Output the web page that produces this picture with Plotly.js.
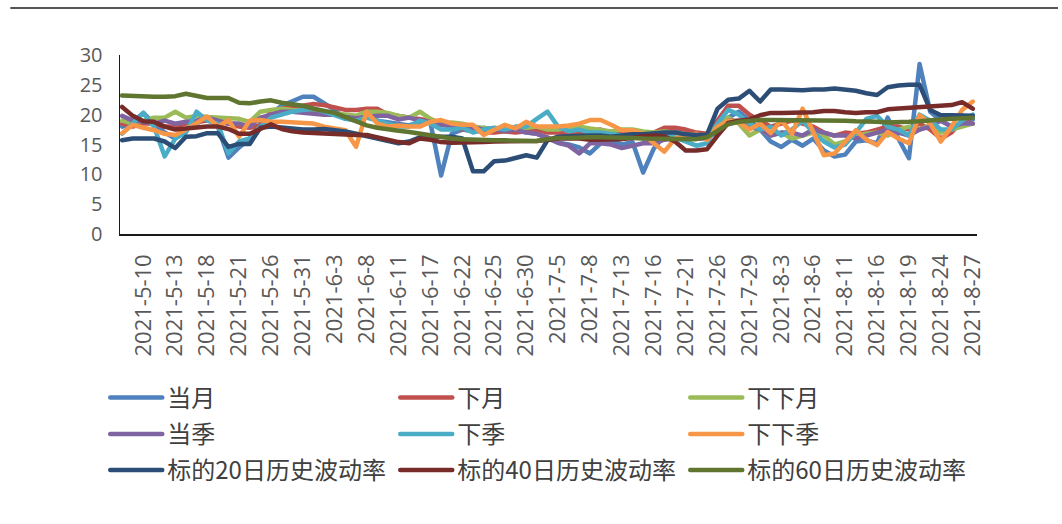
<!DOCTYPE html>
<html>
<head>
<meta charset="utf-8">
<script src="https://cdn.plot.ly/plotly-3.0.1.min.js"></script>
<style>
  html, body { margin: 0; padding: 0; background: #fff; }
  #chart { width: 1062px; height: 524px; }
  .js-line { stroke-linejoin: round; stroke-linecap: round; }
</style>
</head>
<body>
<div id="chart"></div>
<script>
// Trading days, 2021-5-6 .. 2021-8-27
const dates = [
  "2021-5-6","2021-5-7","2021-5-10","2021-5-11","2021-5-12","2021-5-13","2021-5-14","2021-5-17","2021-5-18","2021-5-19",
  "2021-5-20","2021-5-21","2021-5-24","2021-5-25","2021-5-26","2021-5-27","2021-5-28","2021-5-31","2021-6-1","2021-6-2",
  "2021-6-3","2021-6-4","2021-6-7","2021-6-8","2021-6-9","2021-6-10","2021-6-11","2021-6-15","2021-6-16","2021-6-17",
  "2021-6-18","2021-6-21","2021-6-22","2021-6-23","2021-6-24","2021-6-25","2021-6-28","2021-6-29","2021-6-30","2021-7-1",
  "2021-7-2","2021-7-5","2021-7-6","2021-7-7","2021-7-8","2021-7-9","2021-7-12","2021-7-13","2021-7-14","2021-7-15",
  "2021-7-16","2021-7-19","2021-7-20","2021-7-21","2021-7-22","2021-7-23","2021-7-26","2021-7-27","2021-7-28","2021-7-29",
  "2021-7-30","2021-8-2","2021-8-3","2021-8-4","2021-8-5","2021-8-6","2021-8-9","2021-8-10","2021-8-11","2021-8-12",
  "2021-8-13","2021-8-16","2021-8-17","2021-8-18","2021-8-19","2021-8-20","2021-8-23","2021-8-24","2021-8-25","2021-8-26",
  "2021-8-27"
];

// Implied volatility by contract (%)
const ivCurMonth = [
  18.0,18.8,20.3,18.5,17.0,16.0,17.5,18.5,19.5,18.0,
  12.8,14.5,16.0,18.5,20.2,21.5,22.3,23.0,23.0,22.0,
  20.8,19.3,19.5,19.8,19.0,18.7,18.5,18.2,18.8,18.6,
  9.8,16.8,17.5,17.2,17.8,17.5,17.2,17.3,17.0,16.8,
  16.0,15.3,15.0,14.5,13.5,15.2,15.5,15.0,15.4,10.3,
  14.3,16.5,17.2,17.0,16.5,16.2,17.0,19.5,20.5,19.0,
  17.5,15.5,14.6,15.8,14.8,16.0,14.0,13.0,13.3,15.5,
  15.7,15.2,19.5,16.0,12.7,28.5,20.5,19.0,18.0,18.5,
  19.2
];
const ivNextMonth = [
  18.5,18.0,18.5,18.5,18.0,18.0,18.5,18.8,19.0,18.7,
  18.5,18.0,17.8,18.2,20.5,21.0,21.2,21.5,21.8,21.6,
  21.2,20.8,20.8,21.0,21.0,20.0,19.8,19.5,19.2,19.0,
  18.8,18.5,17.5,17.5,17.0,17.0,17.2,17.0,17.2,17.5,
  17.0,17.0,16.8,17.0,17.2,17.5,17.0,16.8,17.0,16.5,
  17.0,17.8,17.8,17.5,17.0,16.8,19.0,21.5,21.5,20.0,
  19.0,18.0,18.5,19.0,18.5,18.0,17.0,16.5,17.0,16.8,
  17.0,17.5,18.0,18.0,17.5,18.5,17.5,16.0,17.0,19.0,
  18.5
];
const ivFarMonth = [
  19.0,18.5,19.0,19.5,19.5,20.5,19.5,19.8,19.6,19.5,
  19.5,19.3,18.8,20.5,20.8,21.0,20.8,20.6,20.5,20.4,
  20.2,20.0,19.8,20.5,20.5,20.3,19.8,19.5,20.5,19.3,
  18.5,18.7,18.5,18.0,17.8,17.5,17.8,17.5,17.8,18.0,
  17.5,17.5,17.8,18.0,17.7,17.5,17.2,17.5,17.5,17.2,
  17.0,17.2,17.0,16.8,16.5,16.6,18.3,19.5,18.5,16.5,
  17.5,16.5,17.0,16.0,16.5,17.0,16.5,15.0,15.5,16.5,
  16.8,17.0,16.5,17.5,18.0,17.5,18.2,17.0,17.5,18.0,
  18.5
];
const ivCurQuarter = [
  19.8,19.0,18.8,18.5,19.0,18.5,18.8,19.0,19.5,19.0,
  18.5,18.5,18.0,19.5,20.0,20.5,20.5,20.3,20.2,20.0,
  20.0,19.6,19.4,19.6,19.8,19.8,19.2,19.5,19.0,18.8,
  18.3,18.0,17.8,17.8,17.5,17.5,17.3,17.5,17.0,16.8,
  16.2,15.3,14.8,13.5,15.2,15.2,15.0,14.4,14.8,15.2,
  15.2,15.8,16.0,16.2,16.0,16.0,17.5,19.0,19.0,18.0,
  17.5,16.5,17.0,17.0,16.5,17.5,17.0,16.5,16.5,16.0,
  16.5,17.0,17.5,17.0,16.5,17.5,18.0,19.0,18.0,18.5,
  18.5
];
const ivNextQuarter = [
  16.8,18.5,20.3,18.0,13.0,16.0,17.0,20.5,19.0,18.5,
  13.5,15.5,16.0,18.0,19.5,20.0,20.5,20.8,21.0,20.5,
  19.8,19.3,19.0,19.5,19.0,18.5,18.0,18.0,19.0,18.5,
  17.5,17.5,17.8,17.0,17.5,17.8,17.5,18.0,18.0,19.3,
  20.5,18.0,17.2,17.5,17.0,17.0,16.8,16.5,16.5,16.0,
  16.0,16.5,16.2,15.5,14.8,15.2,18.5,20.8,20.0,18.5,
  17.5,18.0,16.5,17.5,19.0,17.0,15.5,14.5,15.0,17.0,
  19.3,19.8,18.0,17.5,16.5,20.0,19.0,17.5,17.5,19.0,
  20.0
];
const ivFarQuarter = [
  16.9,18.3,17.8,17.4,16.8,16.6,17.5,18.5,19.7,18.0,
  19.1,16.3,19.0,19.1,18.8,18.8,18.7,18.5,18.5,18.0,
  17.7,17.4,14.6,20.5,18.5,18.0,18.2,18.0,18.0,18.8,
  19.1,18.5,18.3,18.3,16.6,17.4,18.3,17.7,18.8,18.0,
  18.0,18.0,18.2,18.5,19.1,19.1,18.3,17.4,17.4,16.8,
  15.2,13.8,16.0,16.5,16.8,15.8,18.0,19.0,18.8,17.5,
  18.5,16.9,19.1,16.8,21.0,17.0,13.2,13.5,15.5,17.4,
  15.8,14.9,17.1,16.0,15.2,19.9,18.5,15.5,18.0,20.8,
  22.2
];

// Historical volatility of the underlying (%)
const hv20 = [
  15.7,16.0,16.0,16.0,15.5,14.4,16.3,16.4,16.9,16.9,
  14.6,15.1,15.1,17.8,18.0,17.8,17.6,17.5,17.5,17.6,
  17.4,17.2,16.8,16.4,15.9,15.5,15.2,15.5,16.2,16.3,
  16.3,16.3,16.0,10.5,10.5,12.2,12.3,12.8,13.2,12.8,
  15.7,16.3,16.4,16.4,16.5,16.5,16.3,16.5,16.7,16.7,
  16.9,17.0,17.0,16.7,16.6,16.6,21.0,22.5,22.7,24.0,
  22.2,24.2,24.2,24.1,24.1,24.2,24.2,24.4,24.2,24.0,
  23.6,23.3,24.6,24.9,25.0,25.0,20.8,19.9,19.9,19.9,
  19.8
];
const hv40 = [
  21.3,19.8,18.9,18.8,18.0,17.5,17.7,17.9,18.0,18.0,
  17.6,16.8,16.8,17.6,18.4,17.6,17.2,17.0,16.9,16.8,
  16.7,16.7,16.6,16.6,16.2,15.7,15.4,15.2,16.0,15.8,
  15.4,15.3,15.3,15.4,15.4,15.5,15.5,15.5,15.6,15.6,
  15.8,16.0,16.0,16.0,15.8,15.8,15.8,15.9,16.1,16.4,
  16.5,16.4,15.5,14.0,14.0,14.2,16.5,18.6,19.0,19.2,
  19.9,20.3,20.3,20.3,20.3,20.4,20.6,20.6,20.4,20.3,
  20.4,20.4,20.9,21.0,21.2,21.3,21.4,21.5,21.6,22.1,
  21.0
];
const hv60 = [
  23.2,23.1,23.0,23.0,23.0,23.1,23.5,23.2,22.8,22.8,
  22.8,22.0,21.9,22.2,22.4,22.0,21.8,21.5,21.0,20.7,
  20.3,19.6,18.8,18.2,17.8,17.5,17.3,17.1,16.8,16.5,
  16.2,16.0,15.9,15.8,15.8,15.7,15.7,15.7,15.6,15.6,
  15.9,16.1,16.1,16.2,16.2,16.2,16.2,16.1,16.1,16.0,
  16.0,16.0,16.0,15.9,15.9,16.2,17.2,18.4,18.8,19.0,
  19.1,19.1,19.1,19.1,19.1,19.1,19.0,19.0,19.0,18.9,
  18.9,18.8,18.7,18.7,18.8,18.9,19.1,19.2,19.3,19.4,
  19.5
];

const seriesNames = ["当月","下月","下下月","当季","下季","下下季",
  "标的20日历史波动率","标的40日历史波动率","标的60日历史波动率"];
const seriesValues = [ivCurMonth, ivNextMonth, ivFarMonth, ivCurQuarter, ivNextQuarter, ivFarQuarter,
  hv20, hv40, hv60];
const seriesColors = ["#4F81BD","#C0504D","#9BBB59","#8064A2","#4BACC6","#F79646",
  "#2C4D75","#772C2A","#5F7530"];

// every third trading day carries a date label, ending on the last day
const tickDates = dates.filter((d, i) => (dates.length - 1 - i) % 3 === 0);

// three legend rows of three entries each
const legendRows = ["legend", "legend2", "legend3"];

const traces = seriesNames.map((name, k) => ({
  type: "scatter",
  mode: "lines",
  name: name,
  x: dates,
  y: seriesValues[k],
  line: { color: seriesColors[k], width: 4.5 },
  legend: legendRows[Math.floor(k / 3)],
  hoverinfo: "x+y+name"
}));

const xTickFont = { family: "Open Sans, Noto Sans, sans-serif", size: 22, color: "#595959" };
const yTickFont = { family: "Open Sans, Noto Sans, sans-serif", size: 20, color: "#595959" };
const legendFont = { family: "Noto Sans CJK SC, Noto Sans, sans-serif", size: 24, color: "#404040" };

function legendRow(yPaper) {
  return {
    orientation: "h",
    x: -0.0172,
    xanchor: "left",
    y: yPaper,
    yanchor: "middle",
    entrywidth: 223,
    entrywidthmode: "pixels",
    itemwidth: 52,
    font: legendFont,
    bgcolor: "rgba(0,0,0,0)",
    traceorder: "normal"
  };
}

const layout = {
  width: 1062,
  height: 524,
  margin: { l: 120, r: 85, t: 55, b: 290, autoexpand: false },
  paper_bgcolor: "#ffffff",
  plot_bgcolor: "#ffffff",
  showlegend: true,
  xaxis: {
    type: "category",
    range: [-0.2, 80.4],
    tickmode: "array",
    tickvals: tickDates,
    ticktext: tickDates,
    tickangle: -90,
    tickfont: xTickFont,
    ticks: "",
    ticklabelstandoff: 10,
    automargin: false,
    showgrid: false,
    zeroline: false,
    showline: true,
    linecolor: "#1a1a1a",
    linewidth: 1.5
  },
  yaxis: {
    range: [0, 30],
    tickmode: "linear",
    tick0: 0,
    dtick: 5,
    tickfont: yTickFont,
    ticks: "",
    ticklabelstandoff: 12,
    automargin: false,
    showgrid: false,
    zeroline: false,
    showline: true,
    linecolor: "#1a1a1a",
    linewidth: 1.5
  },
  legend: legendRow(-0.916),
  legend2: legendRow(-1.120),
  legend3: legendRow(-1.321),
  shapes: [
    {
      type: "line", xref: "paper", yref: "paper",
      x0: -0.128, x1: 1.0945, y0: 1.2626, y1: 1.2626,
      line: { color: "#555555", width: 2 }
    }
  ]
};

Plotly.newPlot("chart", traces, layout, { displayModeBar: false, staticPlot: true });
</script>
</body>
</html>
